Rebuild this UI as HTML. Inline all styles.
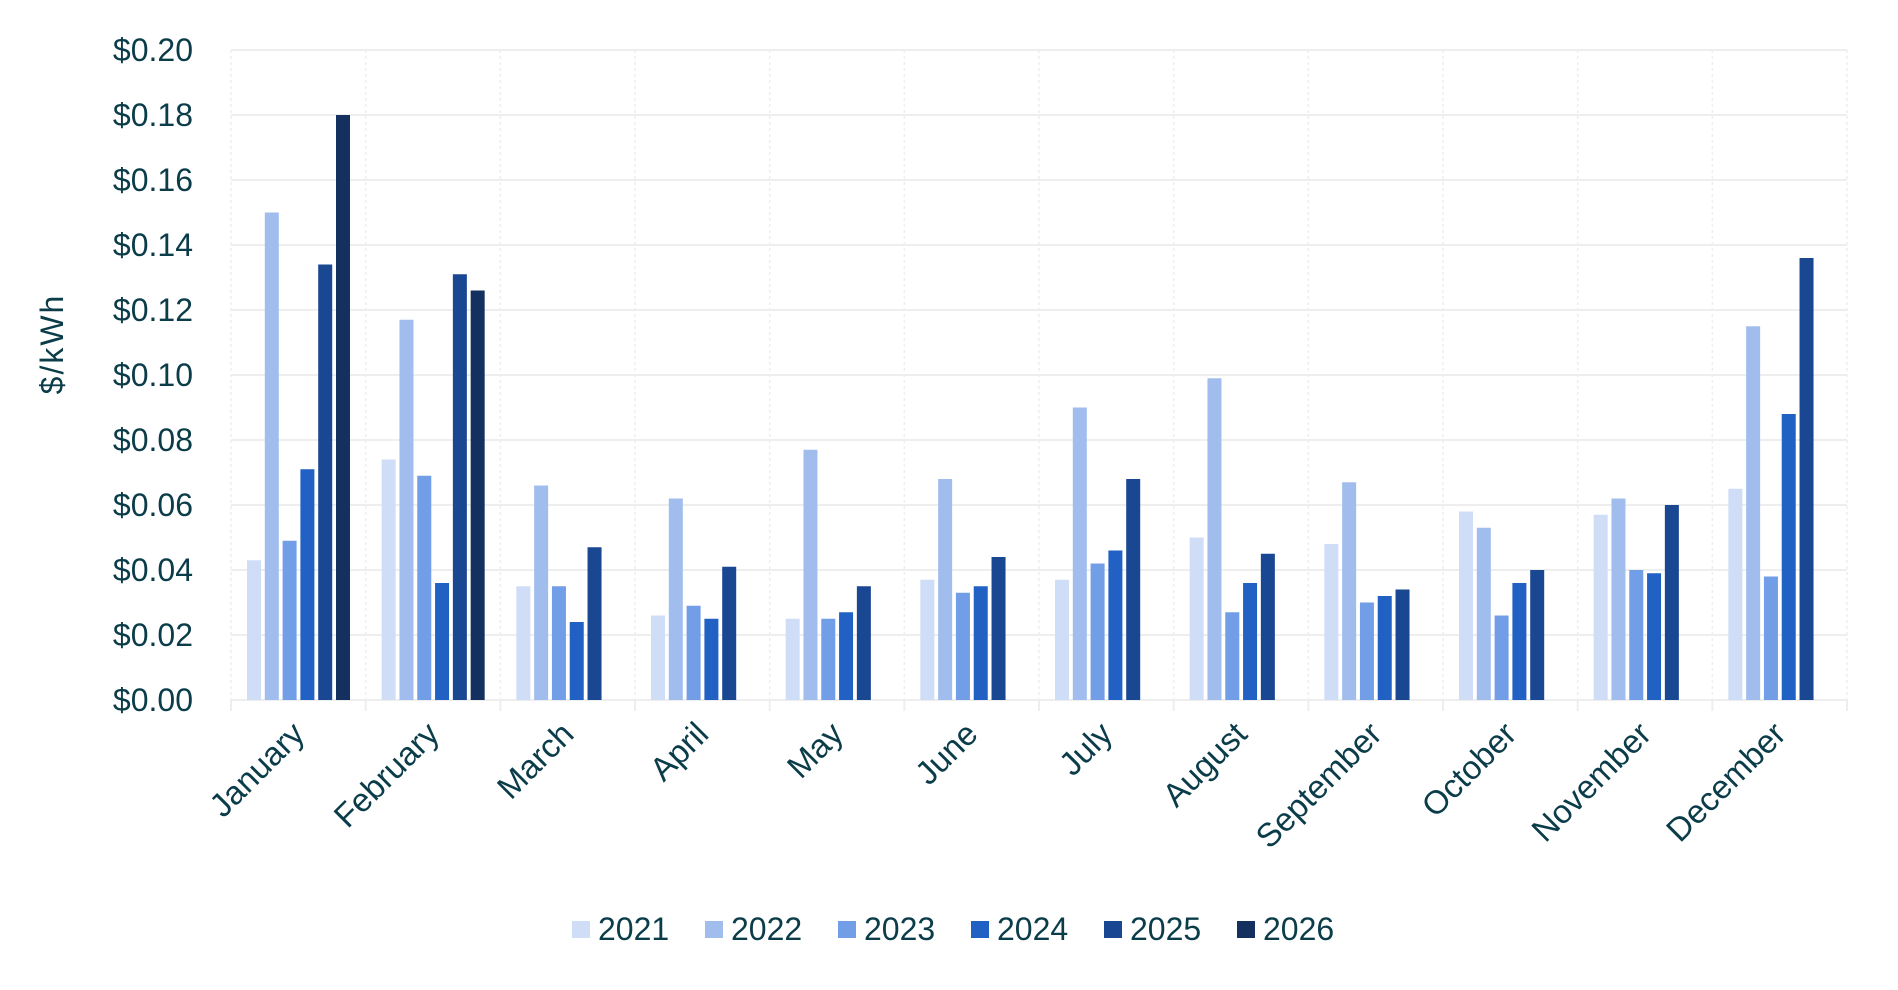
<!DOCTYPE html>
<html><head><meta charset="utf-8"><style>
html,body{margin:0;padding:0;background:#fff;}
svg{display:block;font-family:"Liberation Sans",sans-serif;}
</style></head><body>
<svg width="1898" height="990" viewBox="0 0 1898 990" xmlns="http://www.w3.org/2000/svg">
<g id="grid"></g>
<g id="bars"></g>
<g id="labels" fill="#0b3c49"></g>
</svg>
<script>
const NS="http://www.w3.org/2000/svg";
const g=document.getElementById('grid'),b=document.getElementById('bars'),l=document.getElementById('labels');
function el(p,t,a,txt){const e=document.createElementNS(NS,t);for(const k in a)e.setAttribute(k,a[k]);if(txt!=null)e.textContent=txt;p.appendChild(e);return e;}
const L=231,R=1847,Y0=700,PX=3250,W=(R-L)/12;
for(let i=0;i<=10;i++){const y=Y0-i*65;
 el(g,'line',{x1:L,x2:R,y1:y,y2:y,stroke:'#eeeeee','stroke-width':2});
 el(l,'text',{x:193,y:y+11,'text-anchor':'end','font-size':32},'$0.'+String(i*2).padStart(2,'0'));}
for(let i=0;i<=12;i++){const x=L+i*W;
 el(g,'line',{x1:x,x2:x,y1:50,y2:Y0,stroke:'#eeeeee','stroke-width':1.5,'stroke-dasharray':'3,3'});
 el(g,'line',{x1:x,x2:x,y1:Y0,y2:711,stroke:'#eeeeee','stroke-width':2});}
const cols=['#cfdef6','#a0bdee','#719ee6','#2261c4','#1a4791','#13305f'];
const data=[[.043,.150,.049,.071,.134,.180],[.074,.117,.069,.036,.131,.126],[.035,.066,.035,.024,.047],[.026,.062,.029,.025,.041],[.025,.077,.025,.027,.035],[.037,.068,.033,.035,.044],[.037,.090,.042,.046,.068],[.050,.099,.027,.036,.045],[.048,.067,.030,.032,.034],[.058,.053,.026,.036,.040],[.057,.062,.040,.039,.060],[.065,.115,.038,.088,.136]];
const months=['January','February','March','April','May','June','July','August','September','October','November','December'];
data.forEach((d,m)=>{const x0=L+m*W+16;
 d.forEach((v,k)=>{const h=v*PX;el(b,'rect',{x:x0+k*17.8,y:Y0-h,width:14,height:h,fill:cols[k]});});
 const cx=L+m*W+W/2+8;
 el(l,'text',{x:cx,y:736,'text-anchor':'end','font-size':33,transform:`rotate(-45 ${cx} 736)`},months[m]);});
el(l,'text',{x:63,y:344,'text-anchor':'middle','font-size':32,'letter-spacing':2,transform:'rotate(-90 63 344)'},'$/kWh');
['2021','2022','2023','2024','2025','2026'].forEach((t,k)=>{const x=572+k*133;
 el(b,'rect',{x:x,y:921,width:18,height:17,fill:cols[k]});
 el(l,'text',{x:x+26,y:940,'font-size':32},t);});
</script>
</body></html>
